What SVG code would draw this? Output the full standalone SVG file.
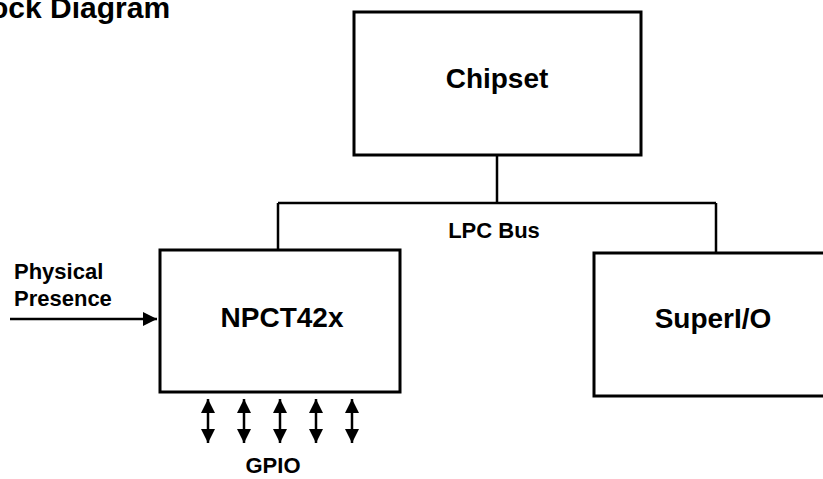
<svg xmlns="http://www.w3.org/2000/svg" width="823" height="479" viewBox="0 0 823 479">
<style>
.box{fill:#fff;stroke:#000;stroke-width:3}
.ln{fill:none;stroke:#000;stroke-width:2.5}
.t{font-family:"Liberation Sans",Arial,sans-serif;font-weight:bold;fill:#000}
</style>
<defs>
<marker id="ah2" viewBox="0 0 10 10" refX="10" refY="5" markerWidth="14" markerHeight="14" orient="auto-start-reverse" markerUnits="userSpaceOnUse">
<path d="M0,0 L10,5 L0,10 Z" fill="#000"/>
</marker>
</defs>
<rect width="823" height="479" fill="#fff"/>
<text class="t" x="-40" y="18" font-size="30">Block Diagram</text>
<g id="connectors">
<path class="ln" d="M497,155 V203 M278,203 H716 M278,203 V249 M716,203 V253"/>
<line class="ln" x1="10" y1="319" x2="157" y2="319" marker-end="url(#ah2)"/>
<line class="ln" x1="208" y1="399" x2="208" y2="443" marker-start="url(#ah2)" marker-end="url(#ah2)"/>
<line class="ln" x1="244" y1="399" x2="244" y2="443" marker-start="url(#ah2)" marker-end="url(#ah2)"/>
<line class="ln" x1="280" y1="399" x2="280" y2="443" marker-start="url(#ah2)" marker-end="url(#ah2)"/>
<line class="ln" x1="316" y1="399" x2="316" y2="443" marker-start="url(#ah2)" marker-end="url(#ah2)"/>
<line class="ln" x1="352" y1="399" x2="352" y2="443" marker-start="url(#ah2)" marker-end="url(#ah2)"/>
<text class="t" x="494" y="238" font-size="22" text-anchor="middle">LPC Bus</text>
<text class="t" x="14" y="279" font-size="22">Physical</text>
<text class="t" x="14" y="306" font-size="22">Presence</text>
<text class="t" x="273" y="473" font-size="22" text-anchor="middle">GPIO</text>
</g>
<g id="chipset">
<rect class="box" x="354" y="12" width="287" height="143"/>
<text class="t" x="497" y="88" font-size="28" text-anchor="middle">Chipset</text>
</g>
<g id="npct42x">
<rect class="box" x="160" y="250" width="240" height="142"/>
<text class="t" x="282" y="327" font-size="28" text-anchor="middle">NPCT42x</text>
</g>
<g id="superio">
<rect class="box" x="594" y="253" width="240" height="143"/>
<text class="t" x="713" y="328" font-size="28" text-anchor="middle">SuperI/O</text>
</g>
</svg>
